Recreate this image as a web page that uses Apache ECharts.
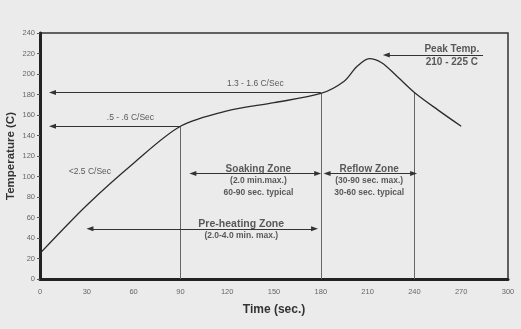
<!DOCTYPE html>
<html>
<head>
<meta charset="utf-8">
<script src="https://cdn.jsdelivr.net/npm/echarts@6/dist/echarts.min.js"></script>
<style>
  html, body { margin: 0; padding: 0; background: #ebebeb; }
  #chart { width: 521px; height: 329px; }
</style>
</head>
<body>
<div id="chart"></div>
<script>
// Reflow soldering temperature profile
const timeTicks = [0, 30, 60, 90, 120, 150, 180, 210, 240, 270, 300];
const tempTicks = [0, 20, 40, 60, 80, 100, 120, 140, 160, 180, 200, 220, 240];

// Profile curve (time in sec, temperature in C)
const profileTime = [0, 30, 60, 90, 120, 150, 180, 195, 203, 211, 219, 228, 240, 255, 270];
const profileTemp = [25, 72, 113, 149, 164, 172, 181, 193, 207, 215, 211, 199, 182, 165, 149];

// Zone boundaries: [time, temperature where the curve is crossed]
const zoneBounds = [[90, 149], [180, 181], [240, 182]];

// Leader arrows pointing left: [fromTime, toTime, temperature]
const rateArrows = [[180, 8, 182], [90, 8, 149]];
const peakArrow = [284, 222, 218.5];

// Two-headed zone arrows: [startTime, endTime, temperature]
const zoneArrows = [[98, 178, 103], [184, 239.5, 103], [32, 176, 49]];

// Annotation texts: [time, temperature, text, size, bold]
const notes = [
  [138, 190.5, '1.3 - 1.6 C/Sec', 8.5, false],
  [58, 157.5, '.5 - .6 C/Sec', 8.5, false],
  [32, 105, '<2.5 C/Sec', 8.5, false],
  [140, 107.5, 'Soaking Zone', 10, true],
  [140, 96, '(2.0 min.max.)', 8.5, true],
  [140, 84.5, '60-90 sec. typical', 8.5, true],
  [211, 107.5, 'Reflow Zone', 10, true],
  [211, 96, '(30-90 sec. max.)', 8.5, true],
  [211, 84.5, '30-60 sec. typical', 8.5, true],
  [129, 54, 'Pre-heating Zone', 10.5, true],
  [129, 42.5, '(2.0-4.0 min. max.)', 8.5, true],
  [264, 224.5, 'Peak Temp.', 10, true],
  [264, 211.5, '210 - 225 C', 10, true]
];

const ink = '#2b2b2b';

const chart = echarts.init(document.getElementById('chart'), null, { renderer: 'canvas' });

const headL = { symbol: 'triangle', symbolSize: [5, 7], symbolRotate: 90 };
const headR = { symbol: 'triangle', symbolSize: [5, 7], symbolRotate: -90 };

const arrowLines = [];
rateArrows.concat([peakArrow]).forEach(a => {
  arrowLines.push([{ coord: [a[0], a[2]], symbol: 'none' }, Object.assign({ coord: [a[1], a[2]] }, headL)]);
});
zoneArrows.forEach(a => {
  arrowLines.push([Object.assign({ coord: [a[0], a[2]] }, headL), Object.assign({ coord: [a[1], a[2]] }, headR)]);
});

const boundLines = zoneBounds.map(b => [{ coord: [b[0], 0] }, { coord: [b[0], b[1]] }]);

chart.setOption({
  backgroundColor: '#ebebeb',
  animation: false,
  textStyle: { fontFamily: 'Liberation Sans, Arial, sans-serif' },
  grid: {
    left: 40, right: 13, top: 33, bottom: 50,
    outerBoundsMode: 'none', containLabel: false,
    show: true, borderColor: '#333', borderWidth: 1.5, backgroundColor: 'transparent'
  },
  // vertical axis title
  graphic: [{
    type: 'text',
    x: 11, y: 156,
    rotation: Math.PI / 2,
    style: {
      text: 'Temperature (C)',
      fontSize: 11.5, fontWeight: 'bold', fill: '#333',
      fontFamily: 'Liberation Sans, Arial, sans-serif',
      align: 'center', verticalAlign: 'middle'
    }
  }],
  xAxis: {
    type: 'value', min: 0, max: 300, interval: 30,
    name: 'Time (sec.)', nameLocation: 'middle', nameGap: 25,
    nameTextStyle: { fontSize: 12, fontWeight: 'bold', color: '#333' },
    axisLine: { show: true, onZero: false, lineStyle: { color: '#222', width: 3 } },
    axisTick: { show: false },
    axisLabel: { fontSize: 7.5, color: '#666', margin: 9 },
    splitLine: { show: false }
  },
  yAxis: {
    type: 'value', min: 0, max: 240, interval: 20,
    axisLine: { show: true, lineStyle: { color: '#222', width: 3 } },
    axisTick: { show: true, length: 3, lineStyle: { color: '#555', width: 1 } },
    axisLabel: { fontSize: 7.5, color: '#666', margin: 5 },
    splitLine: { show: false }
  },
  series: [
    {
      type: 'line',
      data: profileTime.map((t, i) => [t, profileTemp[i]]),
      smooth: 0.3,
      showSymbol: false,
      lineStyle: { color: ink, width: 1.3 },
      z: 5
    },
    {
      type: 'line',
      data: [],
      silent: true,
      markLine: {
        silent: true,
        symbol: 'none',
        label: { show: false },
        lineStyle: { color: '#666', width: 1, type: 'solid' },
        data: boundLines
      }
    },
    {
      type: 'line',
      data: [],
      silent: true,
      markLine: {
        silent: true,
        label: { show: false },
        lineStyle: { color: '#333', width: 1, type: 'solid' },
        itemStyle: { color: '#222' },
        data: arrowLines
      }
    },
    {
      type: 'scatter',
      symbolSize: 0,
      silent: true,
      data: notes.map(n => ({
        value: [n[0], n[1]],
        label: {
          show: true,
          position: 'inside',
          formatter: n[2],
          fontSize: n[3],
          fontWeight: n[4] ? 'bold' : 'normal',
          color: '#333'
        }
      }))
    }
  ]
});
</script>
</body>
</html>
